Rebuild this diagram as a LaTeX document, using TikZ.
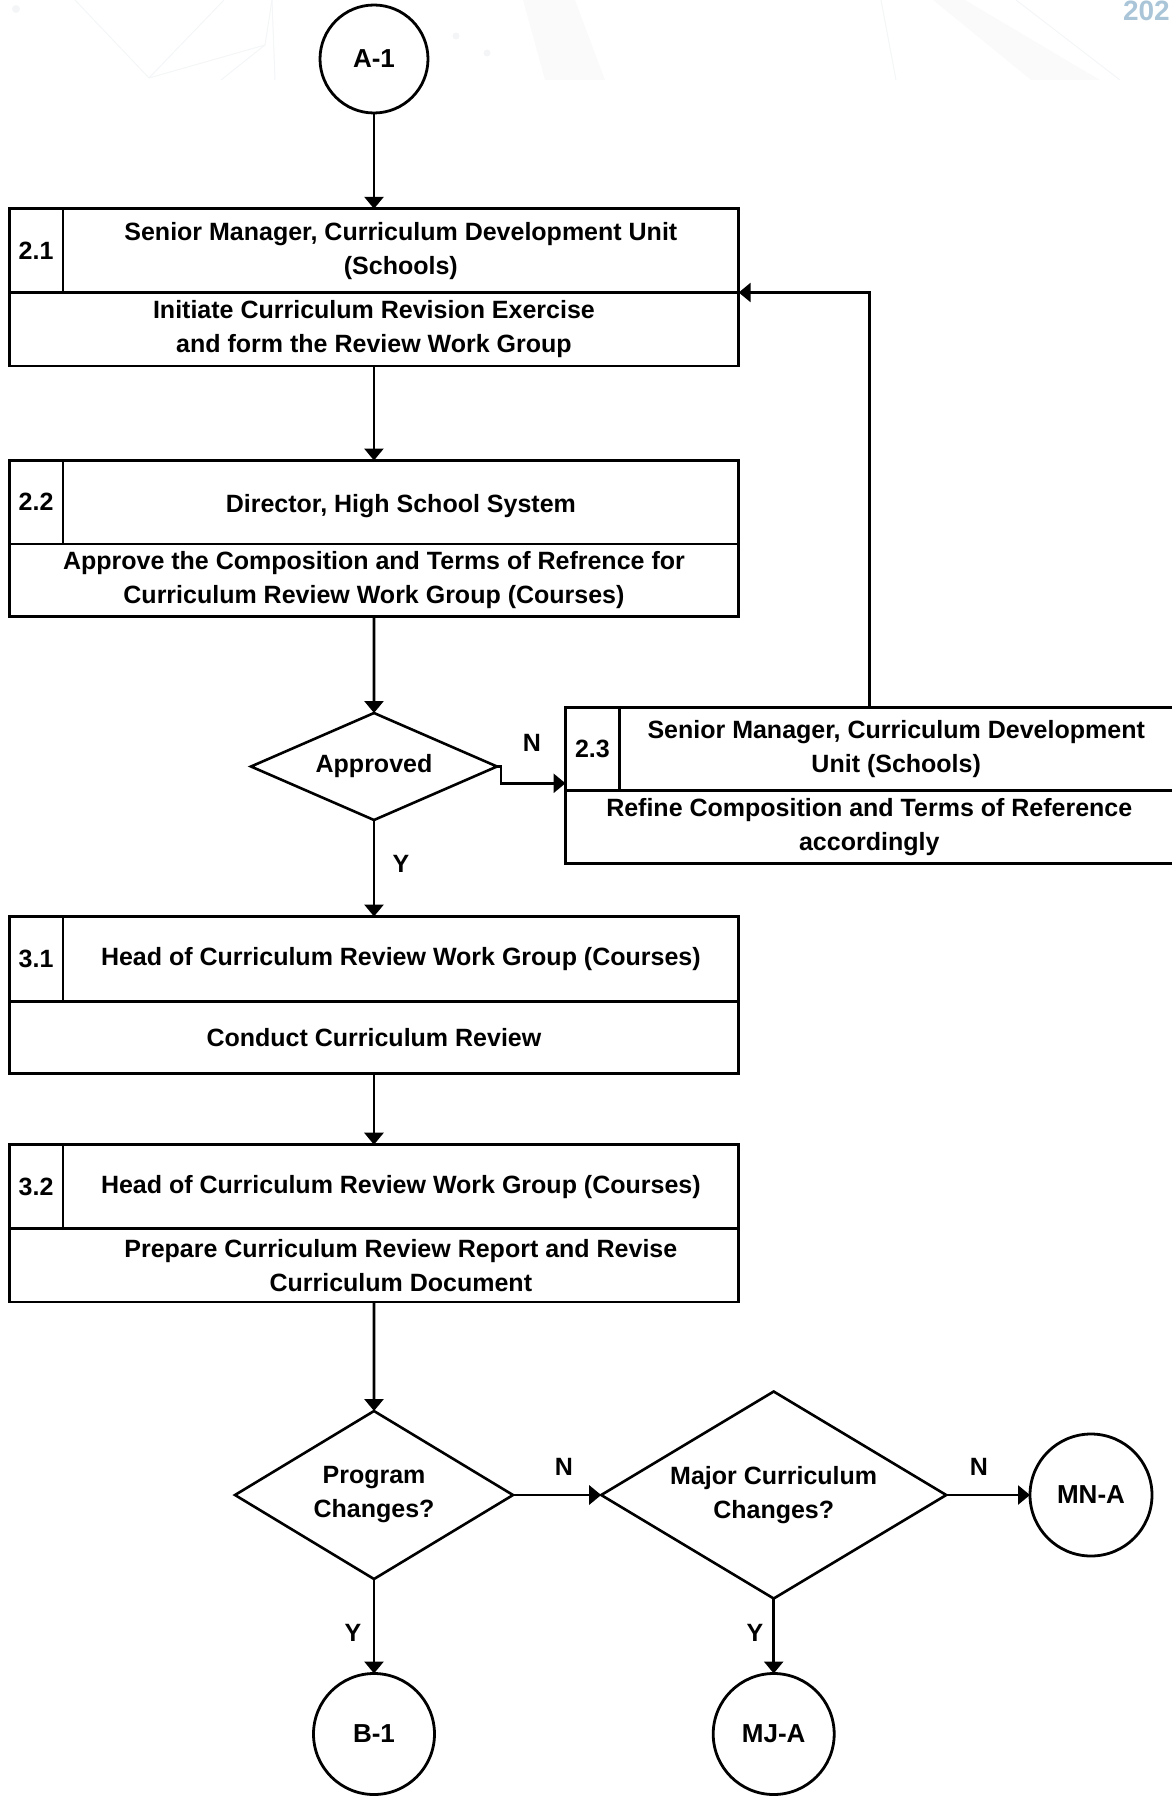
\documentclass[tikz,border=0pt]{standalone}
\usepackage{fontspec}
\setmainfont{Liberation Sans}
\usetikzlibrary{arrows.meta,shapes.geometric,calc}

\definecolor{wmblue}{HTML}{A9C5D7}
\definecolor{wmgray}{HTML}{F3F5F7}

% rectangular cell from (x1,y1) to (x2,y2)
\newcommand\cellnode[5]{%
  \node[cell, minimum width={#4-#2}, minimum height={#5-#3}] (#1)
    at ({(#2+#4)/2},{(#3+#5)/2}) {};}

\begin{document}
\begin{tikzpicture}[x=1pt,y=-1pt,
  every node/.style={inner sep=0pt, outer sep=0pt},
  lbl/.style={font=\bfseries\fontsize{25}{34}\selectfont, align=center},
  cell/.style={draw, rectangle, line width=2.6pt},
  conn/.style={line width=2.8pt, -{Triangle[length=12pt,width=19pt]}},
  term/.style={draw, circle, line width=2.8pt, font=\bfseries\fontsize{26}{30}\selectfont},
  decide/.style={draw, diamond, line width=2.6pt, inner sep=0pt}]

\useasboundingbox (0,0) rectangle (1171,1798);

% faint background artwork along the top edge
\begin{scope}
  \clip (0,0) rectangle (1171,80);
  \fill[wmgray!45] (523,0) -- (575,0) -- (605,80) -- (545,80) -- cycle;
  \fill[wmgray!45] (933,0) -- (965,0) -- (1100,80) -- (1031,80) -- cycle;
  \draw[wmgray, line width=1pt] (75,0) -- (149,78) -- (224,0);
  \draw[wmgray, line width=1pt] (149,78) -- (265,45) -- (272,0);
  \draw[wmgray, line width=1pt] (265,45) -- (221,80);
  \draw[wmgray, line width=1pt] (272,0) -- (275,80);
  \draw[wmgray, line width=1pt] (881,0) -- (896,80);
  \draw[wmgray, line width=1pt] (1016,0) -- (1120,80);
  \fill[wmgray] (16,9) circle (4);
  \fill[wmgray] (456,36) circle (3.5);
  \fill[wmgray] (487,53) circle (3.5);
\end{scope}
\node[anchor=north west, text=wmblue, font=\bfseries\fontsize{28}{28}\selectfont] (year) at (1123,1) {202};

% start connector
\node[term, minimum size=108pt] (A1) at (374,59) {A-1};

% 2.1
\cellnode{b21n}{9.2}{208.8}{63}{292.5}
\cellnode{b21h}{63}{208.8}{738.7}{292.5}
\cellnode{b21a}{9.2}{292.5}{738.7}{365.9}
\node[lbl] (t21n) at (b21n) {2.1};
\node[lbl] (t21h) at (b21h) {Senior Manager, Curriculum Development Unit\\(Schools)};
\node[lbl] (t21a) at (b21a) {Initiate Curriculum Revision Exercise\\and form the Review Work Group};

% 2.2
\cellnode{b22n}{9.2}{460.5}{63}{543.9}
\cellnode{b22h}{63}{460.5}{738.7}{543.9}
\cellnode{b22a}{9.2}{543.9}{738.7}{616.2}
\node[lbl] (t22n) at (b22n) {2.2};
\node[lbl] (t22h) at ($(b22h)+(0,4)$) {Director, High School System};
\node[lbl] (t22a) at (b22a) {Approve the Composition and Terms of Refrence for\\Curriculum Review Work Group (Courses)};

% decision: approved
\node[decide, minimum width=246pt, minimum height=107pt] (d1) at (374,766.5) {};
\node[lbl] (t1) at (d1) {Approved};

% 2.3
\cellnode{b23n}{565.5}{707.7}{619.4}{790.3}
\cellnode{b23h}{619.4}{707.7}{1173}{790.3}
\cellnode{b23a}{565.5}{790.3}{1173}{863.7}
\node[lbl] (t23n) at (b23n) {2.3};
\node[lbl] (t23h) at (b23h) {Senior Manager, Curriculum Development\\Unit (Schools)};
\node[lbl] (t23a) at (b23a) {Refine Composition and Terms of Reference\\accordingly};

% 3.1
\cellnode{b31n}{9.2}{916.5}{63}{1001.3}
\cellnode{b31h}{63}{916.5}{738.7}{1001.3}
\cellnode{b31a}{9.2}{1001.3}{738.7}{1073.6}
\node[lbl] (t31n) at (b31n) {3.1};
\node[lbl] (t31h) at (b31h) {Head of Curriculum Review Work Group (Courses)};
\node[lbl] (t31a) at (b31a) {Conduct Curriculum Review};

% 3.2
\cellnode{b32n}{9.2}{1144.7}{63}{1228.4}
\cellnode{b32h}{63}{1144.7}{738.7}{1228.4}
\cellnode{b32a}{9.2}{1228.4}{738.7}{1301.8}
\node[lbl] (t32n) at (b32n) {3.2};
\node[lbl] (t32h) at (b32h) {Head of Curriculum Review Work Group (Courses)};
\node[lbl] (t32a) at (b32a -| b32h) {Prepare Curriculum Review Report and Revise\\Curriculum Document};

% decisions: program / major curriculum changes
\node[decide, minimum width=278pt, minimum height=168pt] (d2) at (374,1495) {};
\node[lbl] (t2) at (d2) {Program\\Changes?};
\node[decide, minimum width=345pt, minimum height=207pt] (d3) at (773.7,1495) {};
\node[lbl] (t3) at (d3) {Major Curriculum\\Changes?};

% off-page connectors
\node[term, minimum size=122pt] (MN) at (1091,1495) {MN-A};
\node[term, minimum size=121pt] (B1) at (374,1734) {B-1};
\node[term, minimum size=121pt] (MJ) at (773.7,1734) {MJ-A};

% flow
\draw[conn] (A1.south) -- (A1.south |- b21h.north);
\draw[conn] (b21a.south) -- (b21a.south |- b22h.north);
\draw[conn] (b22a.south) -- (d1.north);
\draw[conn] (d1.south) -- (d1.south |- b31h.north);
\draw[conn] (b31a.south) -- (b31a.south |- b32h.north);
\draw[conn] (b32a.south) -- (d2.north);
\draw[conn] (d2.south) -- (B1.north);
\draw[conn] (d2.east) -- (d3.west);
\draw[conn] (d3.east) -- (MN.west);
\draw[conn] (d3.south) -- (MJ.north);
\draw[conn] (d1.east) -- ++(4,0) |- ($(b23n.south west)+(0,-7)$);
\draw[conn] (b23a.north |- b23h.north) |- (b21h.south east);

% branch labels
\node[lbl] (n1) at (532,743) {N};
\node[lbl] (y1) at (401,864) {Y};
\node[lbl] (n2) at (564,1467) {N};
\node[lbl] (n3) at (979,1467) {N};
\node[lbl] (y2) at (353,1633) {Y};
\node[lbl] (y3) at (755,1633) {Y};

\end{tikzpicture}
\end{document}
